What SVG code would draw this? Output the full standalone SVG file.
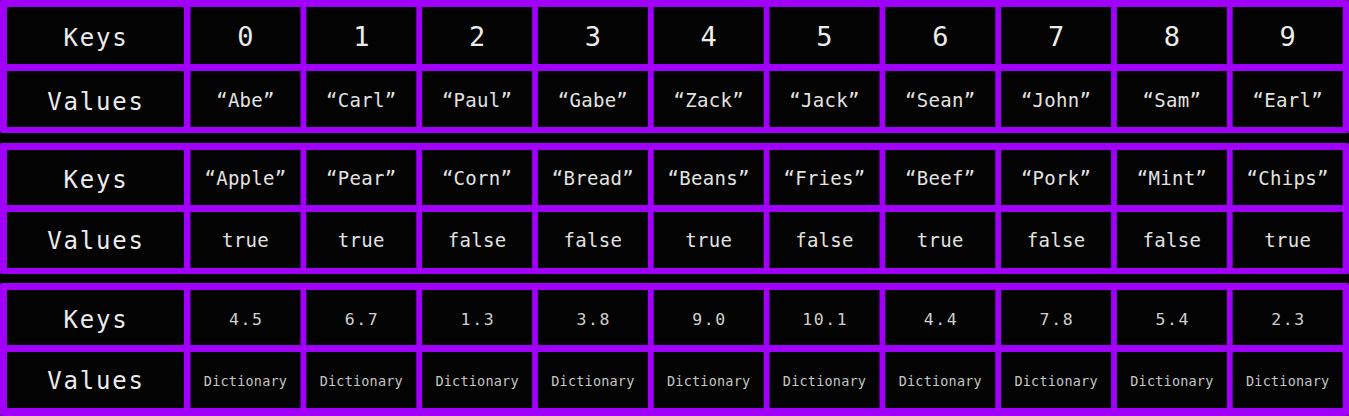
<svg xmlns="http://www.w3.org/2000/svg" width="1349" height="416" viewBox="0 0 1349 416">
<style>
.bg{fill:#000}
.frame{fill:#a000fa}
.cell{fill:#030303}
text{font-family:"DejaVu Sans Mono","Liberation Mono",monospace;fill:#e2e2e2;text-anchor:middle}
.hdr{font-size:24px;letter-spacing:1.8px;fill:#ececec}
.num{font-size:27px;fill:#ececec}
.str{font-size:19px;letter-spacing:0.3px}
.flt{font-size:16.5px;letter-spacing:1.6px;fill:#d0d0d0}
.dict{font-size:13.5px;letter-spacing:0.2px;fill:#c6c6c6}
</style>
<rect class="bg" x="0" y="0" width="1349" height="416"/>

<g id="table1">
<rect class="frame" x="0" y="0" width="1349" height="133" rx="2"/>
<g id="t1-keys"><rect class="cell" x="7" y="7" width="177" height="57" rx="1.5"/><text class="hdr" x="96" y="46">Keys</text></g>
<g id="t1-values"><rect class="cell" x="7" y="71" width="177" height="56" rx="1.5"/><text class="hdr" x="96" y="110">Values</text></g>
<g id="t1-k0"><rect class="cell" x="190.5" y="7" width="110" height="57"/><text class="num" x="245.5" y="46">0</text></g>
<g id="t1-k1"><rect class="cell" x="306.3" y="7" width="110" height="57"/><text class="num" x="361.3" y="46">1</text></g>
<g id="t1-k2"><rect class="cell" x="422.1" y="7" width="110" height="57"/><text class="num" x="477.1" y="46">2</text></g>
<g id="t1-k3"><rect class="cell" x="537.9" y="7" width="110" height="57"/><text class="num" x="592.9" y="46">3</text></g>
<g id="t1-k4"><rect class="cell" x="653.7" y="7" width="110" height="57"/><text class="num" x="708.7" y="46">4</text></g>
<g id="t1-k5"><rect class="cell" x="769.5" y="7" width="110" height="57"/><text class="num" x="824.5" y="46">5</text></g>
<g id="t1-k6"><rect class="cell" x="885.3" y="7" width="110" height="57"/><text class="num" x="940.3" y="46">6</text></g>
<g id="t1-k7"><rect class="cell" x="1001.1" y="7" width="110" height="57"/><text class="num" x="1056.1" y="46">7</text></g>
<g id="t1-k8"><rect class="cell" x="1116.9" y="7" width="110" height="57"/><text class="num" x="1171.9" y="46">8</text></g>
<g id="t1-k9"><rect class="cell" x="1232.7" y="7" width="110" height="57"/><text class="num" x="1287.7" y="46">9</text></g>
<g id="t1-v0"><rect class="cell" x="190.5" y="71" width="110" height="56"/><text class="str" x="245.5" y="107">“Abe”</text></g>
<g id="t1-v1"><rect class="cell" x="306.3" y="71" width="110" height="56"/><text class="str" x="361.3" y="107">“Carl”</text></g>
<g id="t1-v2"><rect class="cell" x="422.1" y="71" width="110" height="56"/><text class="str" x="477.1" y="107">“Paul”</text></g>
<g id="t1-v3"><rect class="cell" x="537.9" y="71" width="110" height="56"/><text class="str" x="592.9" y="107">“Gabe”</text></g>
<g id="t1-v4"><rect class="cell" x="653.7" y="71" width="110" height="56"/><text class="str" x="708.7" y="107">“Zack”</text></g>
<g id="t1-v5"><rect class="cell" x="769.5" y="71" width="110" height="56"/><text class="str" x="824.5" y="107">“Jack”</text></g>
<g id="t1-v6"><rect class="cell" x="885.3" y="71" width="110" height="56"/><text class="str" x="940.3" y="107">“Sean”</text></g>
<g id="t1-v7"><rect class="cell" x="1001.1" y="71" width="110" height="56"/><text class="str" x="1056.1" y="107">“John”</text></g>
<g id="t1-v8"><rect class="cell" x="1116.9" y="71" width="110" height="56"/><text class="str" x="1171.9" y="107">“Sam”</text></g>
<g id="t1-v9"><rect class="cell" x="1232.7" y="71" width="110" height="56"/><text class="str" x="1287.7" y="107">“Earl”</text></g>
</g>

<g id="table2">
<rect class="frame" x="0" y="143" width="1349" height="131" rx="2"/>
<g id="t2-keys"><rect class="cell" x="7" y="150" width="177" height="55" rx="1.5"/><text class="hdr" x="96" y="188">Keys</text></g>
<g id="t2-values"><rect class="cell" x="7" y="212" width="177" height="56" rx="1.5"/><text class="hdr" x="96" y="249">Values</text></g>
<g id="t2-k0"><rect class="cell" x="190.5" y="150" width="110" height="55"/><text class="str" x="245.5" y="185">“Apple”</text></g>
<g id="t2-k1"><rect class="cell" x="306.3" y="150" width="110" height="55"/><text class="str" x="361.3" y="185">“Pear”</text></g>
<g id="t2-k2"><rect class="cell" x="422.1" y="150" width="110" height="55"/><text class="str" x="477.1" y="185">“Corn”</text></g>
<g id="t2-k3"><rect class="cell" x="537.9" y="150" width="110" height="55"/><text class="str" x="592.9" y="185">“Bread”</text></g>
<g id="t2-k4"><rect class="cell" x="653.7" y="150" width="110" height="55"/><text class="str" x="708.7" y="185">“Beans”</text></g>
<g id="t2-k5"><rect class="cell" x="769.5" y="150" width="110" height="55"/><text class="str" x="824.5" y="185">“Fries”</text></g>
<g id="t2-k6"><rect class="cell" x="885.3" y="150" width="110" height="55"/><text class="str" x="940.3" y="185">“Beef”</text></g>
<g id="t2-k7"><rect class="cell" x="1001.1" y="150" width="110" height="55"/><text class="str" x="1056.1" y="185">“Pork”</text></g>
<g id="t2-k8"><rect class="cell" x="1116.9" y="150" width="110" height="55"/><text class="str" x="1171.9" y="185">“Mint”</text></g>
<g id="t2-k9"><rect class="cell" x="1232.7" y="150" width="110" height="55"/><text class="str" x="1287.7" y="185">“Chips”</text></g>
<g id="t2-v0"><rect class="cell" x="190.5" y="212" width="110" height="56"/><text class="str" x="245.5" y="247">true</text></g>
<g id="t2-v1"><rect class="cell" x="306.3" y="212" width="110" height="56"/><text class="str" x="361.3" y="247">true</text></g>
<g id="t2-v2"><rect class="cell" x="422.1" y="212" width="110" height="56"/><text class="str" x="477.1" y="247">false</text></g>
<g id="t2-v3"><rect class="cell" x="537.9" y="212" width="110" height="56"/><text class="str" x="592.9" y="247">false</text></g>
<g id="t2-v4"><rect class="cell" x="653.7" y="212" width="110" height="56"/><text class="str" x="708.7" y="247">true</text></g>
<g id="t2-v5"><rect class="cell" x="769.5" y="212" width="110" height="56"/><text class="str" x="824.5" y="247">false</text></g>
<g id="t2-v6"><rect class="cell" x="885.3" y="212" width="110" height="56"/><text class="str" x="940.3" y="247">true</text></g>
<g id="t2-v7"><rect class="cell" x="1001.1" y="212" width="110" height="56"/><text class="str" x="1056.1" y="247">false</text></g>
<g id="t2-v8"><rect class="cell" x="1116.9" y="212" width="110" height="56"/><text class="str" x="1171.9" y="247">false</text></g>
<g id="t2-v9"><rect class="cell" x="1232.7" y="212" width="110" height="56"/><text class="str" x="1287.7" y="247">true</text></g>
</g>

<g id="table3">
<rect class="frame" x="0" y="283" width="1349" height="133" rx="2"/>
<g id="t3-keys"><rect class="cell" x="7" y="290" width="177" height="55" rx="1.5"/><text class="hdr" x="96" y="328">Keys</text></g>
<g id="t3-values"><rect class="cell" x="7" y="352" width="177" height="56" rx="1.5"/><text class="hdr" x="96" y="389">Values</text></g>
<g id="t3-k0"><rect class="cell" x="190.5" y="290" width="110" height="55"/><text class="flt" x="246.3" y="325">4.5</text></g>
<g id="t3-k1"><rect class="cell" x="306.3" y="290" width="110" height="55"/><text class="flt" x="362.1" y="325">6.7</text></g>
<g id="t3-k2"><rect class="cell" x="422.1" y="290" width="110" height="55"/><text class="flt" x="477.9" y="325">1.3</text></g>
<g id="t3-k3"><rect class="cell" x="537.9" y="290" width="110" height="55"/><text class="flt" x="593.7" y="325">3.8</text></g>
<g id="t3-k4"><rect class="cell" x="653.7" y="290" width="110" height="55"/><text class="flt" x="709.5" y="325">9.0</text></g>
<g id="t3-k5"><rect class="cell" x="769.5" y="290" width="110" height="55"/><text class="flt" x="825.3" y="325">10.1</text></g>
<g id="t3-k6"><rect class="cell" x="885.3" y="290" width="110" height="55"/><text class="flt" x="941.1" y="325">4.4</text></g>
<g id="t3-k7"><rect class="cell" x="1001.1" y="290" width="110" height="55"/><text class="flt" x="1056.9" y="325">7.8</text></g>
<g id="t3-k8"><rect class="cell" x="1116.9" y="290" width="110" height="55"/><text class="flt" x="1172.7" y="325">5.4</text></g>
<g id="t3-k9"><rect class="cell" x="1232.7" y="290" width="110" height="55"/><text class="flt" x="1288.5" y="325">2.3</text></g>
<g id="t3-v0"><rect class="cell" x="190.5" y="352" width="110" height="56"/><text class="dict" x="245.5" y="386">Dictionary</text></g>
<g id="t3-v1"><rect class="cell" x="306.3" y="352" width="110" height="56"/><text class="dict" x="361.3" y="386">Dictionary</text></g>
<g id="t3-v2"><rect class="cell" x="422.1" y="352" width="110" height="56"/><text class="dict" x="477.1" y="386">Dictionary</text></g>
<g id="t3-v3"><rect class="cell" x="537.9" y="352" width="110" height="56"/><text class="dict" x="592.9" y="386">Dictionary</text></g>
<g id="t3-v4"><rect class="cell" x="653.7" y="352" width="110" height="56"/><text class="dict" x="708.7" y="386">Dictionary</text></g>
<g id="t3-v5"><rect class="cell" x="769.5" y="352" width="110" height="56"/><text class="dict" x="824.5" y="386">Dictionary</text></g>
<g id="t3-v6"><rect class="cell" x="885.3" y="352" width="110" height="56"/><text class="dict" x="940.3" y="386">Dictionary</text></g>
<g id="t3-v7"><rect class="cell" x="1001.1" y="352" width="110" height="56"/><text class="dict" x="1056.1" y="386">Dictionary</text></g>
<g id="t3-v8"><rect class="cell" x="1116.9" y="352" width="110" height="56"/><text class="dict" x="1171.9" y="386">Dictionary</text></g>
<g id="t3-v9"><rect class="cell" x="1232.7" y="352" width="110" height="56"/><text class="dict" x="1287.7" y="386">Dictionary</text></g>
</g>
</svg>
